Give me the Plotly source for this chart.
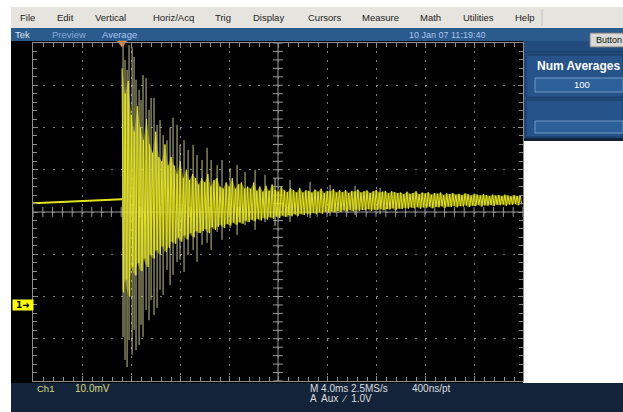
import numpy as np
import plotly.graph_objects as go

# ---------------- data ----------------
menu_items = ["File", "Edit", "Vertical", "Horiz/Acq", "Trig", "Display",
              "Cursors", "Measure", "Math", "Utilities", "Help"]
title_items = ["Tek", "Preview", "Average"]
date_text = "10 Jan 07 11:19:40"
ch_label = "Ch1"
volts_div_label = "10.0mV"
horiz_label = "M 4.0ms 2.5MS/s"
rate_label = "400ns/pt"
trig_label = "A  Aux  \u2215  1.0V"
avg_label = "Num Averages"
avg_value = "100"
button_label = "Button"

ms_per_div = 4.0        # horizontal scale
mv_per_div = 10.0       # vertical scale
x_left_ms = -7.27       # time at left graticule edge (trigger at 0)
y_bottom_mv = -18.0     # level at bottom graticule edge (ground = 0 mV)

# pre-trigger baseline
pre_t = [-7.27, -2.6, 0.0]
pre_mv = [24.1, 24.6, 25.0]

# dense averaged trace after the trigger: per-sample max / min (mV)
core_dt = 0.25  # ms between samples
core_hi = [56, 50, 53,
           45, 41, 47, 42, 39, 44,
           38, 36, 41, 35, 34, 38, 33, 35,
           33, 31, 34, 30, 32, 29.5, 31, 30, 28.5,
           30, 29, 31, 28, 29.5, 30, 28, 27.5, 29, 28, 30, 27.5, 28.5, 29, 27.5,
           28, 27.5, 29, 27, 28, 26.8, 28.2, 27, 28.5, 27.2, 26.8, 28, 27.1, 26.7, 27.6, 27.2, 26.6, 27.7, 26.6, 27.1,
           27, 26.6, 27.3, 26.8, 27.5, 26.5, 27, 26.9, 27.4, 26.6, 27.1, 26.7, 27.2, 26.5, 27, 26.8, 27.3, 26.6, 26.9, 27.1,
           26.5, 26.9, 27.2, 26.6, 26.8, 27, 26.4, 26.9, 26.7, 26.5,
           26.6, 26.2, 26.8, 26.3, 26.5, 26.9, 26.2, 26.6, 26.4, 26.7, 26.1, 26.5, 26.3, 26.6, 26.0, 26.4, 26.2, 26.5, 26.1, 26.3,
           26.0, 26.4, 26.2, 25.9, 26.3, 26.1, 25.9, 26.2, 26.0, 25.8, 26.1, 25.9, 26.0, 25.8, 26.1, 25.9, 25.7, 26.0, 25.8, 25.9]
core_lo = [3, 6, 2,
           9, 7, 10, 8, 11, 9,
           12, 11, 13, 12, 14, 12.5, 13.5, 15,
           14.5, 16, 15, 16.5, 15.5, 17, 16, 17.5, 17,
           17.5, 18, 17, 18.5, 17.8, 18.5, 19, 18.2, 19.2, 18.8, 19.5, 19, 19.6, 19.2, 20,
           19.6, 20.2, 19.8, 20.4, 20, 20.6, 20.2, 20.8, 20.4, 21, 20.6, 21.2, 20.8, 21.3, 21, 21.5, 21.1, 21.6, 21.3, 21.7,
           21.4, 21.8, 21.5, 22, 21.6, 22.1, 21.8, 22.2, 21.9, 22.3, 22, 22.4, 22.1, 22.5, 22.2, 22.6, 22.3, 22.5, 22.4, 22.7,
           22.3, 22.6, 22.5, 22.8, 22.4, 22.7, 22.6, 22.9, 22.5, 22.8,
           22.7, 23, 22.8, 23.1, 22.9, 23.2, 22.8, 23.1, 23, 23.3, 22.9, 23.2, 23.1, 23.4, 23, 23.3, 23.2, 23.5, 23.1, 23.4,
           23.3, 23.6, 23.2, 23.5, 23.4, 23.7, 23.3, 23.6, 23.5, 23.7, 23.4, 23.7, 23.6, 23.8, 23.5, 23.8, 23.7, 23.9, 23.6, 23.8]

# sparse extreme excursions (pale spikes)
spike_t = [0.08, 0.24, 0.41, 0.57, 0.82, 0.98, 1.14, 1.39, 1.55, 1.71,
           1.96, 2.20, 2.37, 2.61, 2.86, 3.10, 3.35, 3.67, 3.92, 4.16,
           4.49, 4.73, 5.06, 5.39, 5.80, 6.12, 6.53, 6.94, 7.27, 7.76,
           8.16, 8.82, 9.39, 10.04, 10.86, 11.67, 12.49, 13.71, 15.35, 16.98,
           19.02, 21.06]
spike_hi = [64, 58, 55.6, 61.5, 61, 58.7, 53.3, 50.9, 48.5, 54.4,
            53.7, 46.2, 49, 49, 42.6, 43.8, 40.2, 39, 42, 44.3,
            42.6, 37.9, 39, 36.7, 37.9, 35.5, 34.3, 37.2, 34.3, 33.1,
            34.3, 32.4, 33.1, 31.5, 32, 30.8, 30, 29.6, 29.1, 28.4,
            28.2, 27.7]
spike_lo = [-7.6, -13, -14.7, -8.3, -11.8, -5.9, -10.7, -9.5, -4.7, -7.6,
            -1.2, -3.6, 1.2, -2.4, -0.7, 3.6, 2.4, 8.3, 4.7, 7.1,
            10.2, 10.7, 7.8, 11.8, 13, 10.2, 14.2, 14.7, 13, 17.3,
            15.4, 18.2, 16.6, 18.9, 17.8, 19.6, 18.7, 19.6, 20.6, 21.1,
            21.3, 21.5]

# ---------------- geometry helpers ----------------
W, H = 623, 412
PL, PR, PT, PB = 33, 523, 43, 381   # graticule box in pixels


def px(x):
    return (x - PL) / (PR - PL)


def py(y):
    return (PB - y) / (PB - PT)


x_range = [x_left_ms, x_left_ms + 10 * ms_per_div]
y_range = [y_bottom_mv, y_bottom_mv + 8 * mv_per_div]
x_center = x_left_ms + 5 * ms_per_div
y_center = y_bottom_mv + 4 * mv_per_div

FONT = "Liberation Sans, Arial, sans-serif"

# ---------------- traces ----------------
core_t = np.arange(len(core_hi)) * core_dt
zx = np.empty(2 * len(core_t))
zx[0::2] = core_t
zx[1::2] = core_t + core_dt / 2
zy = np.empty_like(zx)
zy[0::2] = core_hi
zy[1::2] = core_lo

# filled band between the per-sample max and min (dense persistence look)
band_x = list(core_t) + list(core_t[::-1])
band_y = list(core_hi) + list(core_lo[::-1])

sx, sy = [], []
for t, h, l in zip(spike_t, spike_hi, spike_lo):
    sx += [t, t, None]
    sy += [h, l, None]

minor_x = x_left_ms + np.arange(51) * ms_per_div / 5
minor_y = y_bottom_mv + np.arange(41) * mv_per_div / 5

fig = go.Figure()
fig.add_trace(go.Scatter(x=minor_x, y=[y_center] * len(minor_x), mode="markers",
                         marker=dict(symbol="line-ns", size=7,
                                     line=dict(color="#9a9a9a", width=1)),
                         hoverinfo="skip"))
fig.add_trace(go.Scatter(x=[x_center] * len(minor_y), y=minor_y, mode="markers",
                         marker=dict(symbol="line-ew", size=7,
                                     line=dict(color="#9a9a9a", width=1)),
                         hoverinfo="skip"))
fig.add_trace(go.Scatter(x=band_x, y=band_y, mode="lines", fill="toself",
                         fillcolor="rgba(205,205,20,0.55)",
                         line=dict(width=0), hoverinfo="skip"))
fig.add_trace(go.Scatter(x=pre_t, y=pre_mv, mode="lines",
                         line=dict(color="#e4e41e", width=2), hoverinfo="skip"))
fig.add_trace(go.Scatter(x=sx, y=sy, mode="lines",
                         line=dict(color="rgba(214,214,150,0.9)", width=1),
                         hoverinfo="skip"))
fig.add_trace(go.Scatter(x=zx, y=zy, mode="lines",
                         line=dict(color="#e4e41a", width=1), hoverinfo="skip"))
fig.add_trace(go.Scatter(x=[0.0], y=[y_range[1]], mode="markers",
                         marker=dict(symbol="triangle-down", size=9, color="#f08a24"),
                         cliponaxis=False, hoverinfo="skip"))

# ---------------- chrome shapes ----------------
def rect(x0, y0, x1, y1, fill, line=None, lw=0):
    return dict(type="rect", xref="paper", yref="paper",
                x0=px(x0), x1=px(x1), y0=py(y1), y1=py(y0),
                fillcolor=fill, line=dict(color=line or fill, width=lw),
                layer="below")


shapes = [
    rect(11, 7, 623, 28, "#e6e4de"),
    rect(11, 28, 623, 41, "#2b5a8d"),
    rect(11, 41, 523, 383, "#000000"),
    rect(523, 41, 623, 141, "#234c7e"),
    dict(type="line", xref="paper", yref="paper", x0=px(523), x1=px(623),
         y0=py(52), y1=py(52), line=dict(color="#163a63", width=1), layer="below"),
    rect(526, 55, 623, 97, "#26548a", "#163a63", 1),
    rect(535, 78, 623, 92, "#2d5f98", "#7097c2", 1),
    rect(526, 100, 623, 137, "#26548a", "#163a63", 1),
    rect(535, 121, 623, 133, "#2d5f98", "#7097c2", 1),
    rect(523, 138, 623, 141, "#13243a"),
    rect(11, 383, 623, 412, "#13243a"),
    dict(type="line", xref="paper", yref="paper", x0=px(542), x1=px(542),
         y0=py(26), y1=py(9), line=dict(color="#c4c2bc", width=1), layer="below"),
    dict(type="rect", xref="paper", yref="paper", x0=px(590), x1=px(640),
         y0=py(47), y1=py(33), fillcolor="#d9d9d6",
         line=dict(color="#777777", width=1), layer="above"),
    dict(type="line", xref="x", yref="y", x0=x_center, x1=x_center,
         y0=y_range[0], y1=y_range[1], line=dict(color="#9a9a9a", width=1),
         layer="below"),
    dict(type="line", xref="x", yref="y", x0=x_range[0], x1=x_range[1],
         y0=y_center, y1=y_center, line=dict(color="#9a9a9a", width=1),
         layer="below"),
]

# ---------------- text ----------------
menu_x = [27, 65, 110, 173, 223, 268, 325, 380, 430, 478, 525]
ann = []
for name, x in zip(menu_items, menu_x):
    ann.append(dict(text=name, x=px(x), y=py(17.5), xanchor="center", yanchor="middle",
                    font=dict(family=FONT, size=9.5, color="#222222")))
title_x = [13, 50, 100]
title_col = ["#dde4ee", "#86acd8", "#a9c8ee"]
for name, x, c in zip(title_items, title_x, title_col):
    ann.append(dict(text=name, x=px(x), y=py(34.5), xanchor="left", yanchor="middle",
                    font=dict(family=FONT, size=9.5, color=c)))
ann.append(dict(text=date_text, x=px(447), y=py(34.5), xanchor="center", yanchor="middle",
                font=dict(family=FONT, size=9, color="#a9c8ee")))
ann.append(dict(text=button_label, x=px(594), y=py(40.5), xanchor="left", yanchor="middle",
                font=dict(family=FONT, size=9, color="#111111")))
ann.append(dict(text="<b>" + avg_label + "</b>", x=px(535), y=py(66.5), xanchor="left",
                yanchor="middle", font=dict(family=FONT, size=12, color="#ffffff")))
ann.append(dict(text=avg_value, x=px(582), y=py(85), xanchor="center", yanchor="middle",
                font=dict(family=FONT, size=9.5, color="#ffffff")))
ann.append(dict(text=ch_label, x=px(35), y=py(388.5), xanchor="left", yanchor="middle",
                font=dict(family=FONT, size=9.5, color="#d8d87a")))
ann.append(dict(text=volts_div_label, x=px(73), y=py(388.5), xanchor="left", yanchor="middle",
                font=dict(family=FONT, size=10, color="#d8d87a")))
ann.append(dict(text=horiz_label, x=px(308), y=py(388.5), xanchor="left", yanchor="middle",
                font=dict(family=FONT, size=10, color="#dddddd")))
ann.append(dict(text=rate_label, x=px(410), y=py(388.5), xanchor="left", yanchor="middle",
                font=dict(family=FONT, size=10, color="#dddddd")))
ann.append(dict(text=trig_label, x=px(308), y=py(398.5), xanchor="left", yanchor="middle",
                font=dict(family=FONT, size=10, color="#dddddd")))
ann.append(dict(text="<b>1\u279c</b>", x=px(12), y=0, xref="paper", yref="y",
                xanchor="left", yanchor="middle", bgcolor="#ffff00",
                width=20, height=10, borderpad=0, align="center",
                font=dict(family="DejaVu Sans, sans-serif", size=9, color="#000000")))
for a in ann:
    a.setdefault("xref", "paper")
    a.setdefault("yref", "paper")
    a["showarrow"] = False

fig.update_layout(
    width=W, height=H,
    margin=dict(l=PL, r=W - PR, t=PT, b=H - PB, pad=0),
    paper_bgcolor="#ffffff", plot_bgcolor="#000000",
    showlegend=False, shapes=shapes, annotations=ann,
    xaxis=dict(range=x_range, tick0=x_left_ms, dtick=ms_per_div, showticklabels=False,
               showgrid=True, gridcolor="#808080", gridwidth=1, griddash="2px,6.45px",
               zeroline=False, showline=True, linecolor="#8c8c8c", mirror="ticks",
               ticks="inside", ticklen=5, tickcolor="#8c8c8c",
               minor=dict(dtick=ms_per_div / 5, ticks="inside", ticklen=4,
                          tickcolor="#8c8c8c", showgrid=False),
               fixedrange=True),
    yaxis=dict(range=y_range, tick0=y_bottom_mv, dtick=mv_per_div, showticklabels=False,
               showgrid=True, gridcolor="#808080", gridwidth=1, griddash="2px,7.8px",
               zeroline=False, showline=True, linecolor="#8c8c8c", mirror="ticks",
               ticks="inside", ticklen=5, tickcolor="#8c8c8c",
               minor=dict(dtick=mv_per_div / 5, ticks="inside", ticklen=4,
                          tickcolor="#8c8c8c", showgrid=False),
               fixedrange=True),
)

fig.write_html("out.html", config={"displayModeBar": False},
               post_script="document.body.style.margin='0px';document.body.style.overflow='hidden';")
